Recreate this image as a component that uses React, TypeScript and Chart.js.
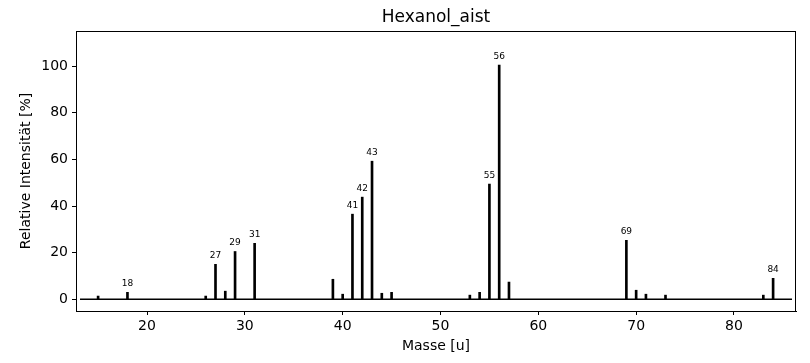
import React, { useEffect, useRef } from "react";
import { Chart, registerables } from "chart.js";

Chart.register(...registerables);

const masses = [15, 18, 26, 27, 28, 29, 31, 39, 40, 41, 42, 43, 44, 45, 53, 54, 55, 56, 57, 69, 70, 71, 73, 83, 84];
const intensities = [1.4, 3, 1.4, 15, 3.5, 20.5, 24, 8.6, 2.2, 36.5, 43.8, 59.2, 2.6, 3, 1.8, 3, 49.4, 100.4, 7.4, 25.3, 3.9, 2.2, 1.8, 1.8, 9];
const labelledMasses = [18, 27, 29, 31, 41, 42, 43, 55, 56, 69, 84];
const baselineX = [13.15, 85.93];
const xTicks = [20, 30, 40, 50, 60, 70, 80];
const yTicks = [0, 20, 40, 60, 80, 100];
const titleText = "Hexanol_aist";
const xTitle = "Masse [u]";
const yTitle = "Relative Intensität [%]";

const FONT = "'DejaVu Sans', sans-serif";

export default function App() {
  const ref = useRef<HTMLCanvasElement>(null);
  useEffect(() => {
    document.body.style.margin = "0";
    const canvas = ref.current!;
    const labelPlugin = {
      id: "peakLabels",
      afterDatasetsDraw(chart: any) {
        const { ctx, scales } = chart;
        ctx.save();
        ctx.fillStyle = "#000";
        ctx.font = `9px ${FONT}`;
        ctx.textAlign = "center";
        ctx.textBaseline = "bottom";
        labelledMasses.forEach((m) => {
          const i = masses.indexOf(m);
          const x = scales.x.getPixelForValue(m);
          const y = scales.y.getPixelForValue(intensities[i]);
          ctx.fillText(String(m), x, y - 4);
        });
        const a = chart.chartArea;
        ctx.strokeStyle = "#000";
        ctx.lineWidth = 1;
        ctx.strokeRect(Math.round(a.left) + 0.5, Math.round(a.top) + 0.5, Math.round(a.right - a.left) - 1, Math.round(a.bottom - a.top));
        ctx.font = `17px ${FONT}`;
        ctx.textBaseline = "middle";
        ctx.fillText(titleText, (a.left + a.right) / 2, 18);
        ctx.restore();
      },
    };
    const chart = new Chart(canvas, {
      type: "bar",
      data: {
        datasets: [
          {
            type: "bar",
            data: masses.map((m, i) => ({ x: m, y: intensities[i] })),
            backgroundColor: "#000",
            barThickness: 2,
            borderWidth: 0,
          } as any,
          {
            type: "line",
            data: baselineX.map((x) => ({ x, y: 0 })),
            borderColor: "#000",
            borderWidth: 1.5,
            pointRadius: 0,
          } as any,
        ],
      },
      options: {
        animation: false,
        responsive: false,
        maintainAspectRatio: false,
        layout: { padding: { top: 31, right: 14, left: 0, bottom: 0 } },
        plugins: { legend: { display: false }, tooltip: { enabled: false }, title: { display: false } },
        scales: {
          x: {
            type: "linear",
            offset: false,
            min: 12.74,
            max: 86.34,
            afterBuildTicks: (s: any) => {
              s.ticks = xTicks.map((v) => ({ value: v }));
            },
            afterFit: (s: any) => {
              s.height = 52;
            },
            grid: { display: true, offset: false, drawOnChartArea: false, drawTicks: true, tickLength: 4, color: "#000" },
            border: { display: true, color: "#000", width: 1 },
            ticks: { color: "#000", font: { family: FONT, size: 14 }, padding: 3, maxRotation: 0 },
            title: { display: true, text: xTitle, color: "#000", font: { family: FONT, size: 14 }, padding: { top: 0, bottom: 8.6 } },
          },
          y: {
            type: "linear",
            min: -5,
            max: 115,
            afterBuildTicks: (s: any) => {
              s.ticks = yTicks.map((v) => ({ value: v }));
            },
            afterFit: (s: any) => {
              s.width = 76;
            },
            grid: { display: true, drawOnChartArea: false, drawTicks: true, tickLength: 4, color: "#000" },
            border: { display: true, color: "#000", width: 1 },
            ticks: { color: "#000", font: { family: FONT, size: 14 }, padding: 4 },
            title: { display: true, text: yTitle, color: "#000", font: { family: FONT, size: 14 }, padding: { top: 17.6, bottom: 0 } },
          },
        },
      },
      plugins: [labelPlugin],
    });
    return () => chart.destroy();
  }, []);
  return <canvas ref={ref} width={810} height={363} style={{ display: "block" }} />;
}
